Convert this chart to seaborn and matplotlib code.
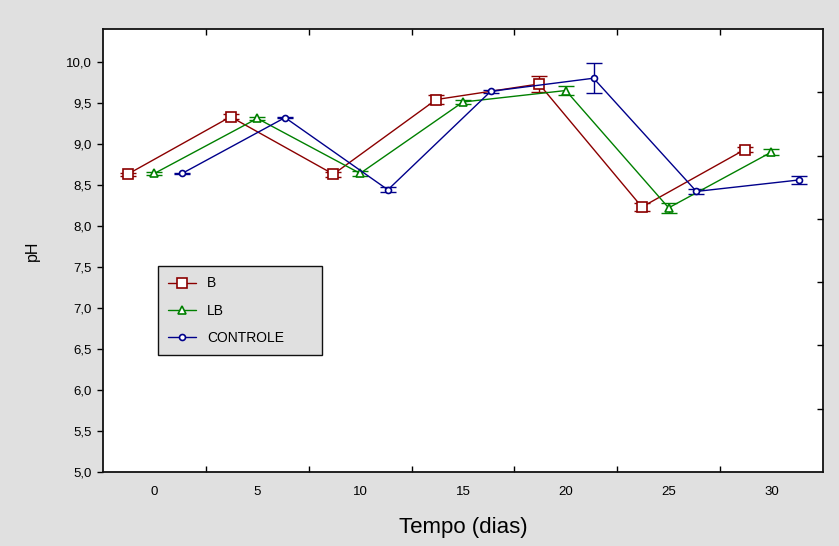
import numpy as np
import pandas as pd
import matplotlib
matplotlib.use("Agg")
import matplotlib.pyplot as plt
import seaborn as sns

# dias de coleta
dias = ["0", "5", "10", "15", "20", "25", "30"]

# medias de pH
ph_b = [8.63, 9.33, 8.63, 9.54, 9.73, 8.23, 8.93]
ph_lb = [8.64, 9.31, 8.64, 9.51, 9.65, 8.22, 8.90]
ph_controle = [8.64, 9.32, 8.44, 9.64, 9.80, 8.42, 8.56]

# erros (barras)
err_b = [0.02, 0.03, 0.03, 0.05, 0.10, 0.05, 0.03]
err_lb = [0.02, 0.02, 0.03, 0.02, 0.05, 0.06, 0.04]
err_controle = [0.01, 0.01, 0.03, 0.02, 0.18, 0.03, 0.05]

series = [
    ("B", ph_b, err_b, "#8b0000", "s", 6.7, -0.26),
    ("LB", ph_lb, err_lb, "#008000", "^", 5.5, 0.0),
    ("CONTROLE", ph_controle, err_controle, "#00008b", "o", 4.3, 0.27),
]

sns.set_style("ticks")
plt.rcParams["font.family"] = ["Liberation Sans", "DejaVu Sans"]
plt.rcParams["text.color"] = "black"
plt.rcParams["axes.labelcolor"] = "black"
plt.rcParams["xtick.color"] = "black"
plt.rcParams["ytick.color"] = "black"

fig = plt.figure(figsize=(8.39, 5.46), dpi=100, facecolor="#e0e0e0")
ax = fig.add_axes([0.1228, 0.1355, 0.858, 0.8114])
ax.set_facecolor("white")

pos = np.arange(len(dias))
for nome, vals, errs, cor, mk, ms, off in series:
    df = pd.DataFrame({"x": pos + off, "ph": vals})
    ax.errorbar(df["x"], df["ph"], yerr=errs, fmt="none", ecolor=cor,
                elinewidth=1.0, capsize=6, capthick=1.0, zorder=2)
    sns.lineplot(data=df, x="x", y="ph", ax=ax, color=cor, lw=1.0,
                 marker=mk, markersize=ms, markerfacecolor="white",
                 markeredgecolor=cor, markeredgewidth=1.2, label=nome,
                 zorder=3)

ax.set_xlim(-0.5, 6.5)
ax.set_ylim(5.0, 10.4)
ax.set_xticks(pos)
ax.set_xticklabels(dias)
ax.set_xticks(pos[:-1] + 0.5, minor=True)
ax.set_yticks(np.arange(5.0, 10.01, 0.5))
ax.set_yticklabels([f"{v:.1f}".replace(".", ",") for v in np.arange(5.0, 10.01, 0.5)])

ax.tick_params(axis="x", which="major", length=0, pad=10, labelsize=9.5)
ax.tick_params(axis="x", which="minor", direction="in", length=4, width=1,
               top=True, bottom=True)
ax.tick_params(axis="y", which="major", direction="out", length=4, width=1,
               pad=4, labelsize=9.5)

for sp in ax.spines.values():
    sp.set_visible(True)
    sp.set_linewidth(1.3)
    sp.set_color("#111111")

# escala do eixo direito
ax2 = ax.twinx()
ax2.set_ylim(0, 7)
ax2.set_yticks(np.arange(1, 7))
ax2.tick_params(axis="y", direction="in", length=4, width=1, labelright=False)
for sp in ax2.spines.values():
    sp.set_visible(False)

ax.set_xlabel("Tempo (dias)", fontsize=16, labelpad=14)
ax.set_ylabel("pH", fontsize=11.5, labelpad=19)

leg = ax.legend(loc="upper left", bbox_to_anchor=(0.076, 0.271, 0.228, 0.194),
                mode="expand", fontsize=10, frameon=True, fancybox=False,
                handlelength=2.0, labelspacing=0.95, borderpad=0.75,
                handletextpad=0.8, borderaxespad=0)
leg.get_frame().set_facecolor("#e0e0e0")
leg.get_frame().set_edgecolor("#111111")
leg.get_frame().set_linewidth(1.0)
leg.get_frame().set_alpha(1)

fig.savefig("out.png", dpi=100, facecolor=fig.get_facecolor())
